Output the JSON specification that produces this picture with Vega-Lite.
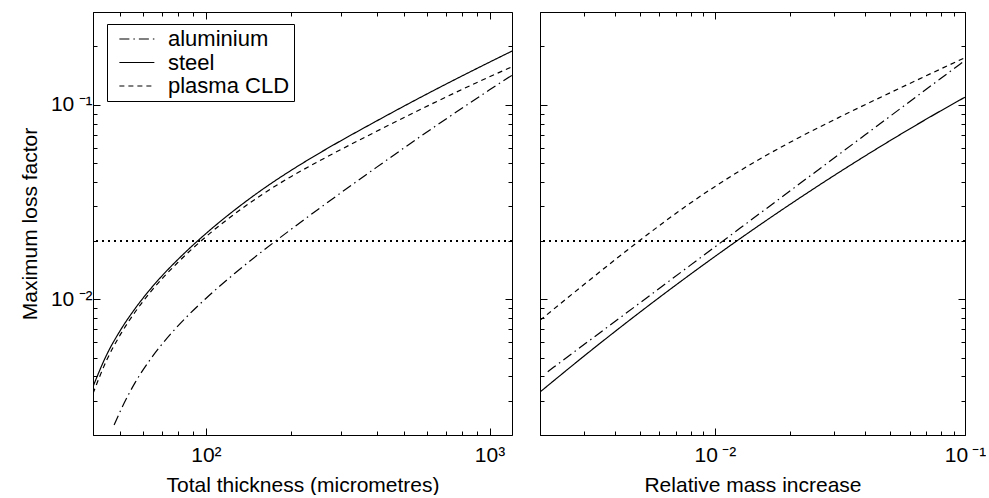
{
  "$schema": "https://vega.github.io/schema/vega-lite/v6.json",
  "padding": {"left": 19, "top": 1, "right": 0, "bottom": 0},
  "background": "white",
  "config": {
    "font": "Liberation Sans",
    "view": {"stroke": null},
    "axis": {"domainColor": "black", "domainWidth": 1, "tickColor": "black", "tickWidth": 1, "grid": false, "labelColor": "black", "labelFontSize": 21, "titleFontSize": 21, "titleFontWeight": "normal", "titleColor": "black", "labelFlush": false, "labelOverlap": false},
    "legend": {"labelFontSize": 22, "labelColor": "black"}
  },
  "datasets": {
    "left": [
      {"material": "steel", "x": 40, "y": 0.003548},
      {"material": "steel", "x": 44.67, "y": 0.005164},
      {"material": "steel", "x": 50.12, "y": 0.006966},
      {"material": "steel", "x": 56.23, "y": 0.008923},
      {"material": "steel", "x": 63.1, "y": 0.01107},
      {"material": "steel", "x": 70.79, "y": 0.0134},
      {"material": "steel", "x": 79.43, "y": 0.01592},
      {"material": "steel", "x": 100, "y": 0.02173},
      {"material": "steel", "x": 125.9, "y": 0.02864},
      {"material": "steel", "x": 158.5, "y": 0.03673},
      {"material": "steel", "x": 199.5, "y": 0.04592},
      {"material": "steel", "x": 251.2, "y": 0.05636},
      {"material": "steel", "x": 398.1, "y": 0.08222},
      {"material": "steel", "x": 631, "y": 0.1178},
      {"material": "steel", "x": 1000, "y": 0.1656},
      {"material": "steel", "x": 1200, "y": 0.1888},
      {"material": "plasma CLD", "x": 40, "y": 0.003273},
      {"material": "plasma CLD", "x": 44.67, "y": 0.004842},
      {"material": "plasma CLD", "x": 50.12, "y": 0.006622},
      {"material": "plasma CLD", "x": 56.23, "y": 0.00856},
      {"material": "plasma CLD", "x": 63.1, "y": 0.01067},
      {"material": "plasma CLD", "x": 70.79, "y": 0.01294},
      {"material": "plasma CLD", "x": 79.43, "y": 0.01538},
      {"material": "plasma CLD", "x": 100, "y": 0.02094},
      {"material": "plasma CLD", "x": 125.9, "y": 0.02735},
      {"material": "plasma CLD", "x": 158.5, "y": 0.03467},
      {"material": "plasma CLD", "x": 199.5, "y": 0.04266},
      {"material": "plasma CLD", "x": 251.2, "y": 0.0514},
      {"material": "plasma CLD", "x": 398.1, "y": 0.07278},
      {"material": "plasma CLD", "x": 631, "y": 0.1016},
      {"material": "plasma CLD", "x": 1000, "y": 0.1393},
      {"material": "plasma CLD", "x": 1200, "y": 0.1567},
      {"material": "aluminium", "x": 47.5, "y": 0.002254},
      {"material": "aluminium", "x": 50.12, "y": 0.002685},
      {"material": "aluminium", "x": 56.23, "y": 0.003707},
      {"material": "aluminium", "x": 63.1, "y": 0.004802},
      {"material": "aluminium", "x": 70.79, "y": 0.005977},
      {"material": "aluminium", "x": 79.43, "y": 0.007236},
      {"material": "aluminium", "x": 100, "y": 0.01008},
      {"material": "aluminium", "x": 125.9, "y": 0.0135},
      {"material": "aluminium", "x": 158.5, "y": 0.01768},
      {"material": "aluminium", "x": 199.5, "y": 0.02283},
      {"material": "aluminium", "x": 251.2, "y": 0.02928},
      {"material": "aluminium", "x": 398.1, "y": 0.04748},
      {"material": "aluminium", "x": 631, "y": 0.07596},
      {"material": "aluminium", "x": 1000, "y": 0.1193},
      {"material": "aluminium", "x": 1200, "y": 0.1418}
    ],
    "right": [
      {"material": "steel", "x": 0.002, "y": 0.003327},
      {"material": "steel", "x": 0.003162, "y": 0.005379},
      {"material": "steel", "x": 0.005012, "y": 0.008556},
      {"material": "steel", "x": 0.007943, "y": 0.01335},
      {"material": "steel", "x": 0.01259, "y": 0.02044},
      {"material": "steel", "x": 0.01995, "y": 0.03068},
      {"material": "steel", "x": 0.03162, "y": 0.04519},
      {"material": "steel", "x": 0.05012, "y": 0.06531},
      {"material": "steel", "x": 0.07943, "y": 0.09258},
      {"material": "steel", "x": 0.1, "y": 0.1094},
      {"material": "aluminium", "x": 0.002148, "y": 0.004236},
      {"material": "aluminium", "x": 0.003162, "y": 0.006142},
      {"material": "aluminium", "x": 0.005012, "y": 0.009556},
      {"material": "aluminium", "x": 0.007943, "y": 0.01487},
      {"material": "aluminium", "x": 0.01259, "y": 0.02313},
      {"material": "aluminium", "x": 0.01995, "y": 0.03599},
      {"material": "aluminium", "x": 0.03162, "y": 0.05601},
      {"material": "aluminium", "x": 0.05012, "y": 0.08715},
      {"material": "aluminium", "x": 0.07943, "y": 0.1356},
      {"material": "aluminium", "x": 0.1, "y": 0.1691},
      {"material": "plasma CLD", "x": 0.002, "y": 0.00778},
      {"material": "plasma CLD", "x": 0.00317, "y": 0.01259},
      {"material": "plasma CLD", "x": 0.005023, "y": 0.02009},
      {"material": "plasma CLD", "x": 0.007962, "y": 0.03112},
      {"material": "plasma CLD", "x": 0.01262, "y": 0.04581},
      {"material": "plasma CLD", "x": 0.02, "y": 0.06412},
      {"material": "plasma CLD", "x": 0.0317, "y": 0.0867},
      {"material": "plasma CLD", "x": 0.05023, "y": 0.1153},
      {"material": "plasma CLD", "x": 0.07962, "y": 0.1524},
      {"material": "plasma CLD", "x": 0.1, "y": 0.1747}
    ]
  },
  "spacing": 26,
  "resolve": {"scale": {"strokeDash": "independent"}, "legend": {"strokeDash": "independent"}},
  "hconcat": [
    {
      "width": 419,
      "height": 423,
      "data": {"name": "left"},
      "resolve": {"axis": {"x": "independent", "y": "independent"}},
      "layer": [
        {
          "mark": {"type": "line", "color": "black", "strokeWidth": 1.2, "clip": true, "interpolate": "monotone"},
          "encoding": {
            "x": {"field": "x", "type": "quantitative",
              "scale": {"type": "log", "domain": [40, 1200], "nice": false},
              "axis": {"orient": "bottom", "title": "Total thickness (micrometres)", "values": [40,50,60,70,80,90,100,200,300,400,500,600,700,800,900,1000],
                "labelExpr": "datum.value == 100 ? '10²' : datum.value == 1000 ? '10³' : ''",
                "tickSize": {"condition": {"test": "datum.value == 100 || datum.value == 1000", "value": -7}, "value": -4},
                "labelPadding": 16, "titlePadding": 6}},
            "y": {"field": "y", "type": "quantitative",
              "scale": {"type": "log", "domain": [0.002, 0.3], "nice": false},
              "axis": {"orient": "left", "title": "Maximum loss factor", "values": [0.002,0.003,0.004,0.005,0.006,0.007,0.008,0.009,0.01,0.02,0.03,0.04,0.05,0.06,0.07,0.08,0.09,0.1,0.2,0.3],
                "labelExpr": "datum.value == 0.1 ? '10\u2009⁻¹' : datum.value == 0.01 ? '10\u2009⁻²' : ''",
                "tickSize": {"condition": {"test": "datum.value == 0.1 || datum.value == 0.01", "value": -7}, "value": -4},
                "labelPadding": 8, "labelDy": 4, "titlePadding": 10}},
            "strokeDash": {"field": "material", "type": "nominal",
              "scale": {"domain": ["aluminium", "steel", "plasma CLD"], "range": [[10, 4, 1.5, 4], [1, 0], [5, 4]]},
              "legend": {"title": null, "orient": "none", "legendX": 14, "legendY": 12, "padding": 4, "strokeColor": "black", "fillColor": "white", "symbolType": "M-0.3,0H3.7", "symbolSize": 306, "symbolStrokeColor": "black", "symbolStrokeWidth": 1.2, "rowPadding": 1.5, "labelOffset": 35}}
          }
        },
        {
          "mark": {"type": "rule", "color": "black", "strokeWidth": 1.1, "strokeDash": [1.5, 4.5]},
          "encoding": {"y": {"datum": 0.02, "type": "quantitative", "axis": null}}
        },
        {
          "mark": {"type": "line", "opacity": 0},
          "encoding": {
            "x": {"field": "x", "type": "quantitative", "axis": {"orient": "top", "title": null, "values": [40,50,60,70,80,90,100,200,300,400,500,600,700,800,900,1000], "labels": false,
              "tickSize": {"condition": {"test": "datum.value == 100 || datum.value == 1000", "value": -7}, "value": -4}}},
            "y": {"field": "y", "type": "quantitative", "axis": {"orient": "right", "title": null, "values": [0.002,0.003,0.004,0.005,0.006,0.007,0.008,0.009,0.01,0.02,0.03,0.04,0.05,0.06,0.07,0.08,0.09,0.1,0.2,0.3], "labels": false,
              "tickSize": {"condition": {"test": "datum.value == 0.1 || datum.value == 0.01", "value": -7}, "value": -4}}},
            "detail": {"field": "material"}
          }
        }
      ]
    },
    {
      "width": 425,
      "height": 423,
      "data": {"name": "right"},
      "resolve": {"axis": {"x": "independent", "y": "independent"}},
      "layer": [
        {
          "mark": {"type": "line", "color": "black", "strokeWidth": 1.2, "clip": true, "interpolate": "monotone"},
          "encoding": {
            "x": {"field": "x", "type": "quantitative",
              "scale": {"type": "log", "domain": [0.002, 0.1], "nice": false},
              "axis": {"orient": "bottom", "title": "Relative mass increase", "values": [0.002,0.003,0.004,0.005,0.006,0.007,0.008,0.009,0.01,0.02,0.03,0.04,0.05,0.06,0.07,0.08,0.09,0.1],
                "labelExpr": "datum.value == 0.1 ? '10\u2009⁻¹' : datum.value == 0.01 ? '10\u2009⁻²' : ''",
                "tickSize": {"condition": {"test": "datum.value == 0.1 || datum.value == 0.01", "value": -7}, "value": -4},
                "labelPadding": 16, "titlePadding": 6}},
            "y": {"field": "y", "type": "quantitative",
              "scale": {"type": "log", "domain": [0.002, 0.3], "nice": false},
              "axis": {"orient": "left", "title": null, "labels": false, "values": [0.002,0.003,0.004,0.005,0.006,0.007,0.008,0.009,0.01,0.02,0.03,0.04,0.05,0.06,0.07,0.08,0.09,0.1,0.2,0.3],
                "tickSize": {"condition": {"test": "datum.value == 0.1 || datum.value == 0.01", "value": -7}, "value": -4}}},
            "strokeDash": {"field": "material", "type": "nominal",
              "scale": {"domain": ["aluminium", "steel", "plasma CLD"], "range": [[10, 4, 1.5, 4], [1, 0], [5, 4]]},
              "legend": null}
          }
        },
        {
          "mark": {"type": "rule", "color": "black", "strokeWidth": 1.1, "strokeDash": [1.5, 4.5]},
          "encoding": {"y": {"datum": 0.02, "type": "quantitative", "axis": null}}
        },
        {
          "mark": {"type": "line", "opacity": 0},
          "encoding": {
            "x": {"field": "x", "type": "quantitative", "axis": {"orient": "top", "title": null, "labels": false, "values": [0.002,0.003,0.004,0.005,0.006,0.007,0.008,0.009,0.01,0.02,0.03,0.04,0.05,0.06,0.07,0.08,0.09,0.1],
              "tickSize": {"condition": {"test": "datum.value == 0.1 || datum.value == 0.01", "value": -7}, "value": -4}}},
            "y": {"field": "y", "type": "quantitative", "axis": {"orient": "right", "title": null, "labels": false, "values": [0.002,0.003,0.004,0.005,0.006,0.007,0.008,0.009,0.01,0.02,0.03,0.04,0.05,0.06,0.07,0.08,0.09,0.1,0.2,0.3],
              "tickSize": {"condition": {"test": "datum.value == 0.1 || datum.value == 0.01", "value": -7}, "value": -4}}},
            "detail": {"field": "material"}
          }
        }
      ]
    }
  ]
}
